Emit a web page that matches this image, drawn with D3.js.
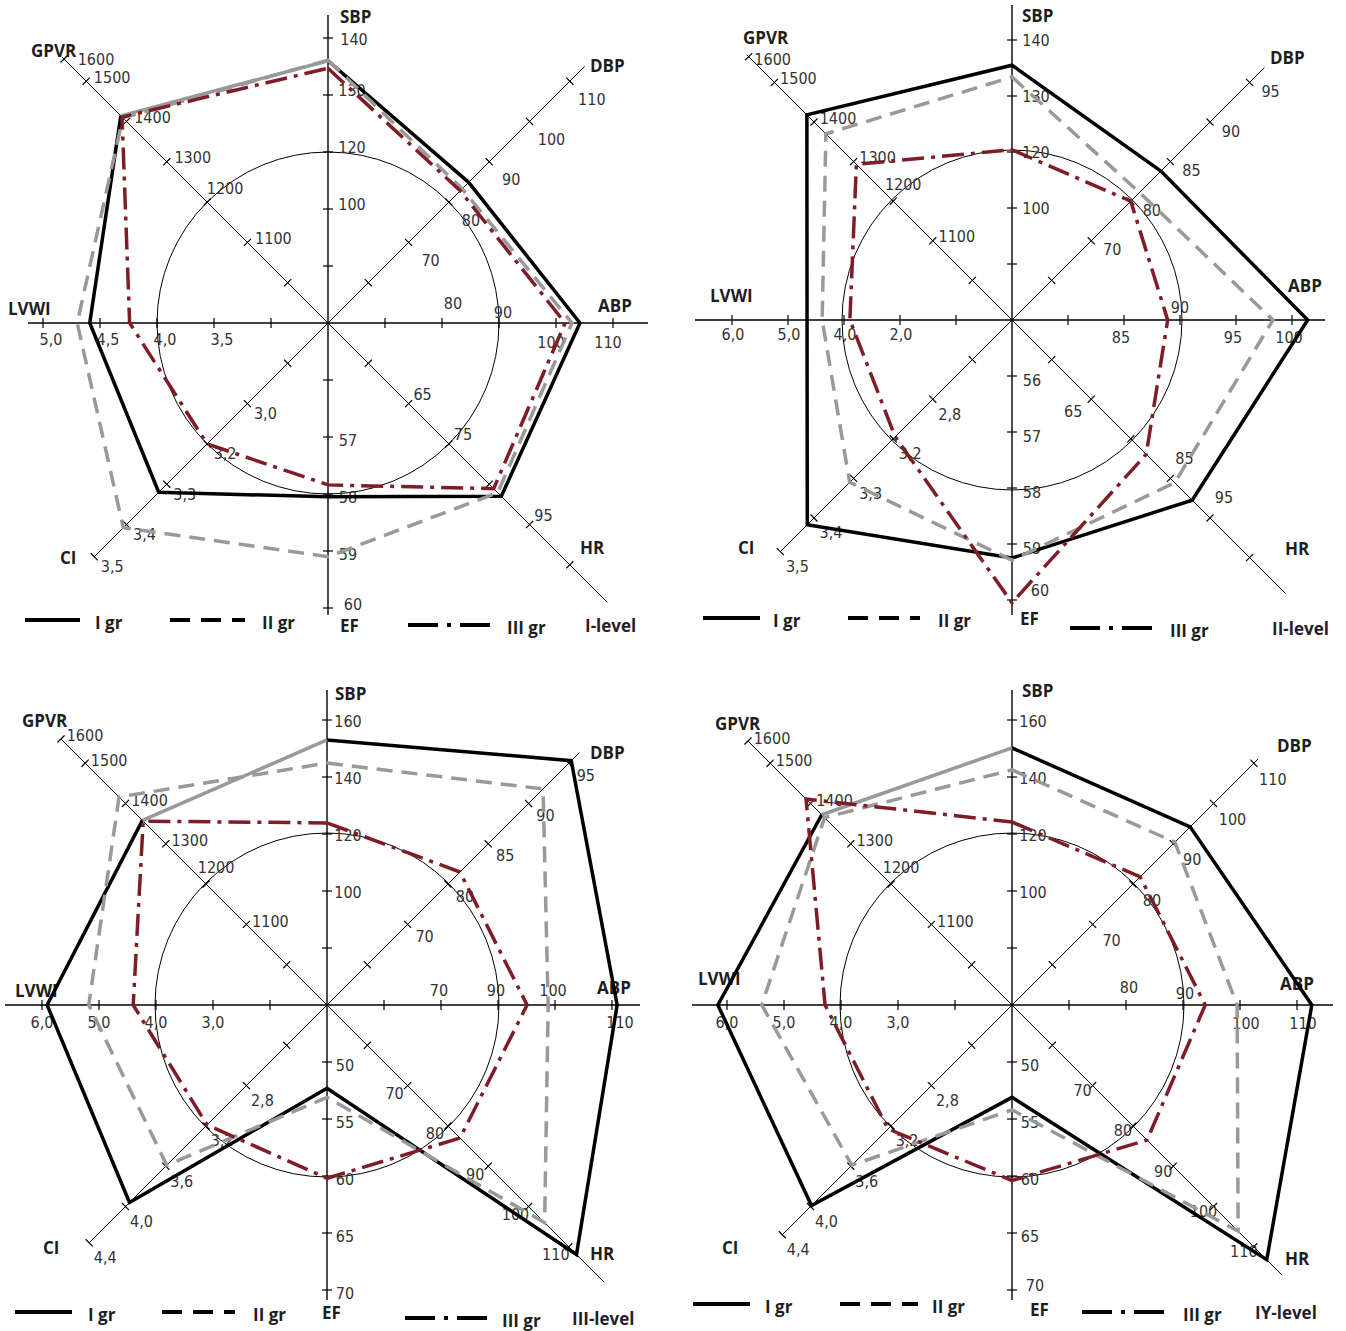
<!DOCTYPE html>
<html>
<head>
<meta charset="utf-8">
<script src="https://cdn.jsdelivr.net/npm/d3@7"></script>
<style>
  body { margin: 0; background: #fff; }
  .tick { font-family: "DejaVu Sans Condensed", "DejaVu Sans", sans-serif; font-size: 16px; fill: #333; }
  .name { font-family: "Open Sans", sans-serif; font-weight: bold; font-size: 17px; fill: #1e1e1e; }
</style>
</head>
<body>
<svg id="chart" width="1346" height="1331"></svg>
<script>

var axisNames = ["SBP", "DBP", "ABP", "HR", "EF", "CI", "LVWI", "GPVR"];
var axisAngles = [-90, -45, 0, 45, 90, 135, 180, 225];
var groupNames = ["I gr", "II gr", "III gr"];
var levelNames = ["I-level", "II-level", "III-level", "IY-level"];

// tick labels per axis: [label, tick number counted from the centre]
var ticksLevel1 = [
  [["100", 2], ["120", 3], ["130", 4], ["140", 5]],
  [["70", 2], ["80", 3], ["90", 4], ["100", 5], ["110", 6]],
  [["80", 2], ["90", 3], ["100", 4], ["110", 5]],
  [["65", 2], ["75", 3], ["95", 5]],
  [["57", 2], ["58", 3], ["59", 4], ["60", 5]],
  [["3,0", 2], ["3,2", 3], ["3,3", 4], ["3,4", 5], ["3,5", 5.8]],
  [["3,5", 2], ["4,0", 3], ["4,5", 4], ["5,0", 5]],
  [["1100", 2], ["1200", 3], ["1300", 4], ["1400", 5], ["1500", 6], ["1600", 6.55]]
];
var ticksLevel2 = [
  [["100", 2], ["120", 3], ["130", 4], ["140", 5]],
  [["70", 2], ["80", 3], ["85", 4], ["90", 5], ["95", 6]],
  [["85", 2], ["90", 3], ["95", 4], ["100", 5]],
  [["65", 2], ["85", 4], ["95", 5]],
  [["56", 1], ["57", 2], ["58", 3], ["59", 4], ["60", 5]],
  [["2,8", 2], ["3,2", 3], ["3,3", 4], ["3,4", 5], ["3,5", 5.85]],
  [["2,0", 2], ["4,0", 3], ["5,0", 4], ["6,0", 5]],
  [["1100", 2], ["1200", 3], ["1300", 4], ["1400", 5], ["1500", 6], ["1600", 6.65]]
];
var ticksLevel3 = [
  [["100", 2], ["120", 3], ["140", 4], ["160", 5]],
  [["70", 2], ["80", 3], ["85", 4], ["90", 5], ["95", 6]],
  [["70", 2], ["90", 3], ["100", 4], ["110", 5]],
  [["70", 2], ["80", 3], ["90", 4], ["100", 5], ["110", 6]],
  [["50", 1], ["55", 2], ["60", 3], ["65", 4], ["70", 5]],
  [["2,8", 2], ["3,2", 3], ["3,6", 4], ["4,0", 5], ["4,4", 5.9]],
  [["3,0", 2], ["4,0", 3], ["5,0", 4], ["6,0", 5]],
  [["1100", 2], ["1200", 3], ["1300", 4], ["1400", 5], ["1500", 6], ["1600", 6.6]]
];
var ticksLevel4 = [
  [["100", 2], ["120", 3], ["140", 4], ["160", 5]],
  [["70", 2], ["80", 3], ["90", 4], ["100", 5], ["110", 6]],
  [["80", 2], ["90", 3], ["100", 4], ["110", 5]],
  [["70", 2], ["80", 3], ["90", 4], ["100", 5], ["110", 6]],
  [["50", 1], ["55", 2], ["60", 3], ["65", 4], ["70", 5]],
  [["2,8", 2], ["3,2", 3], ["3,6", 4], ["4,0", 5], ["4,4", 5.7]],
  [["3,0", 2], ["4,0", 3], ["5,0", 4], ["6,0", 5]],
  [["1100", 2], ["1200", 3], ["1300", 4], ["1400", 5], ["1500", 6], ["1600", 6.55]]
];

// values in axis order: SBP, DBP, ABP, HR, EF, CI, LVWI, GPVR
var level1I   = [136.0, 84.9, 104.2, 88.0, 58.05, 3.32, 4.59, 1414];
var level1II  = [136.1, 83.3, 102.8, 87.1, 59.1, 3.41, 4.70, 1409];
var level1III = [134.7, 82.8, 101.6, 86.1, 57.84, 3.20, 4.24, 1411];

var level2I   = [135.5, 83.8, 101.4, 90.5, 59.25, 3.42, 4.66, 1418];
var level2II  = [133.4, 81.1, 98.3, 86.1, 59.29, 3.31, 4.39, 1370];
var level2III = [120.4, 80.0, 88.9, 78.9, 60.05, 3.18, 3.79, 1293];

var level3I   = [153.0, 95.3, 110.9, 111.9, 52.3, 3.96, 5.91, 1358];
var level3II  = [144.9, 91.8, 98.8, 104.0, 53.1, 3.59, 5.18, 1416];
var level3III = [123.9, 81.5, 95.1, 83.0, 60.2, 3.19, 4.40, 1356];

var level4I   = [150.2, 94.2, 112.6, 113.2, 53.1, 3.99, 6.16, 1372];
var level4II  = [142.5, 90.4, 99.5, 106.1, 54.2, 3.59, 5.39, 1365];
var level4III = [124.2, 81.8, 93.9, 83.5, 60.4, 3.23, 4.28, 1411];

// layout of the four diagrams
var panels = [
  { cx: 328, cy: 323, u: 57, R: 171, ticks: ticksLevel1, series: [level1I, level1II, level1III], graySeg: true,
    len: [308, 363, 320, 395, 292, 331, 300, 376],
    off: [[24, -5], [22, 18], [-5, 19], [14, -9], [20, 3], [18, 10], [8, 16], [26, -4]],
    adjust: { "0:5": [26, 1], "2:2": [11, -20], "2:3": [4, -11], "4:5": [25, -4], "7:3": [18, -14], "7:6.55": [32, 0] },
    names: [[12, -307], [262, -258], [270, -18], [252, 224], [12, 302], [-268, 234], [-320, -15], [-297, -273]],
    legend: { y: [297, 302], x: [-303, -248, -233, -158, -83, -66, 80, 164, 179, 257] } },
  { cx: 1012, cy: 320, u: 56, R: 170, ticks: ticksLevel2, series: [level2I, level2II, level2III], graySeg: false,
    len: [315, 357, 313, 387, 295, 328, 317, 375],
    off: [[24, 0], [21, 9], [-3, 17], [14, -20], [20, 4], [17, 15], [1, 14], [24, -4]],
    adjust: { "2:3": [0, -13], "3:2": [-18, 12], "4:5": [28, -10], "7:6.65": [24, 3], "7:3": [10, -17] },
    names: [[10, -305], [258, -263], [276, -35], [273, 228], [8, 298], [-274, 227], [-302, -25], [-269, -283]],
    legend: { y: [298, 308], x: [-309, -252, -239, -164, -92, -74, 58, 143, 158, 260] } },
  { cx: 327, cy: 1005, u: 57, R: 172, ticks: ticksLevel3, series: [level3I, level3II, level3III], graySeg: true,
    len: [315, 357, 313, 392, 295, 336, 322, 376],
    off: [[21, 1], [17, 12], [-2, -15], [-13, 8], [18, 3], [16, 15], [0, 17], [24, -3]],
    adjust: { "2:5": [8, 17], "7:3": [10, -17] },
    names: [[8, -312], [263, -253], [270, -18], [263, 248], [-5, 307], [-284, 242], [-312, -15], [-305, -285]],
    legend: { y: [307, 313], x: [-312, -255, -239, -165, -92, -74, 78, 163, 175, 245] } },
  { cx: 1012, cy: 1005, u: 57, R: 172, ticks: ticksLevel4, series: [level4I, level4II, level4III], graySeg: true,
    len: [315, 348, 321, 382, 295, 325, 320, 373],
    off: [[21, 1], [19, 16], [6, 18], [-10, 5], [18, 3], [16, 15], [0, 17], [24, -3]],
    adjust: { "2:2": [3, -18], "2:3": [2, -12], "4:5": [23, -5], "7:3": [10, -17] },
    names: [[10, -315], [265, -260], [268, -22], [273, 253], [18, 304], [-290, 242], [-314, -27], [-297, -282]],
    legend: { y: [299, 307], x: [-319, -262, -247, -172, -94, -80, 70, 156, 171, 243] } }
];

var seriesStyle = [
  { color: "#000", dash: null },
  { color: "#999", dash: "16,9" },
  { color: "#7f1d26", dash: "22,7,4,7" }
];
var legendDash = [null, "20,11", "30,9,4,9"];

var num = function(s){ return +s.replace(",", "."); };

var svg = d3.select("#chart");

panels.forEach(function(p, pi){
  var g = svg.append("g");

  var pt = function(i, r){
    var a = axisAngles[i] * Math.PI / 180;
    return [p.cx + r * Math.cos(a), p.cy + r * Math.sin(a)];
  };

  var scales = p.ticks.map(function(t){
    return d3.scaleLinear()
      .domain(t.map(function(d){ return num(d[0]); }))
      .range(t.map(function(d){ return d[1] * p.u; }));
  });

  g.append("circle")
    .attr("cx", p.cx).attr("cy", p.cy).attr("r", p.R)
    .style("fill", "none").style("stroke", "#000").style("stroke-width", 1);

  axisNames.forEach(function(name, i){
    var a = axisAngles[i] * Math.PI / 180;
    var nx = -Math.sin(a), ny = Math.cos(a);
    var end = pt(i, p.len[i]);
    g.append("line")
      .attr("x1", p.cx).attr("y1", p.cy).attr("x2", end[0]).attr("y2", end[1])
      .style("stroke", "#000").style("stroke-width", i % 2 === 0 ? 1.4 : 1);

    var idx = d3.range(1, Math.floor(p.len[i] / p.u) + 1);
    p.ticks[i].forEach(function(d){ if (idx.indexOf(d[1]) < 0) idx.push(d[1]); });
    idx.forEach(function(k){
      var c = pt(i, k * p.u);
      g.append("line")
        .attr("x1", c[0] - 5 * nx).attr("y1", c[1] - 5 * ny)
        .attr("x2", c[0] + 5 * nx).attr("y2", c[1] + 5 * ny)
        .style("stroke", "#000").style("stroke-width", 1.2);
    });

    p.ticks[i].forEach(function(d){
      var c = pt(i, scales[i](num(d[0])));
      var o = p.adjust[i + ":" + d[1]] || p.off[i];
      g.append("text").attr("class", "tick")
        .attr("x", c[0] + o[0]).attr("y", c[1] + o[1])
        .attr("text-anchor", "middle").attr("dominant-baseline", "central")
        .text(d[0]);
    });

    g.append("text").attr("class", "name")
      .attr("x", p.cx + p.names[i][0]).attr("y", p.cy + p.names[i][1])
      .attr("dominant-baseline", "central")
      .text(name);
  });

  // groups
  p.series.forEach(function(vals, si){
    var pts = vals.map(function(v, i){ return pt(i, scales[i](v)); });
    var st = seriesStyle[si];
    var closed = !(si === 0 && p.graySeg);
    var path = d3.line()(pts) + (closed ? "Z" : "");
    g.append("path")
      .attr("d", path)
      .style("fill", "none").style("stroke", st.color).style("stroke-width", 3.5)
      .style("stroke-dasharray", st.dash).style("stroke-linejoin", "miter");
    if (!closed) {
      g.append("path")
        .attr("d", d3.line()([pts[7], pts[0]]))
        .style("fill", "none").style("stroke", "#999").style("stroke-width", 3.5);
    }
  });

  // legend
  var lx = p.legend.x, ly = p.legend.y;
  groupNames.forEach(function(gn, k){
    var y = p.cy + (k === 2 ? ly[1] : ly[0]);
    g.append("line")
      .attr("x1", p.cx + lx[k * 3]).attr("x2", p.cx + lx[k * 3 + 1])
      .attr("y1", y).attr("y2", y)
      .style("stroke", "#000").style("stroke-width", 4)
      .style("stroke-dasharray", legendDash[k]);
    g.append("text").attr("class", "name")
      .attr("x", p.cx + lx[k * 3 + 2]).attr("y", y + 2)
      .attr("dominant-baseline", "central")
      .text(gn);
  });
  g.append("text").attr("class", "name")
    .attr("x", p.cx + lx[9]).attr("y", p.cy + ly[1])
    .attr("dominant-baseline", "central")
    .style("fill", "#2a1a2a")
    .text(levelNames[pi]);
});
</script>
</body>
</html>
